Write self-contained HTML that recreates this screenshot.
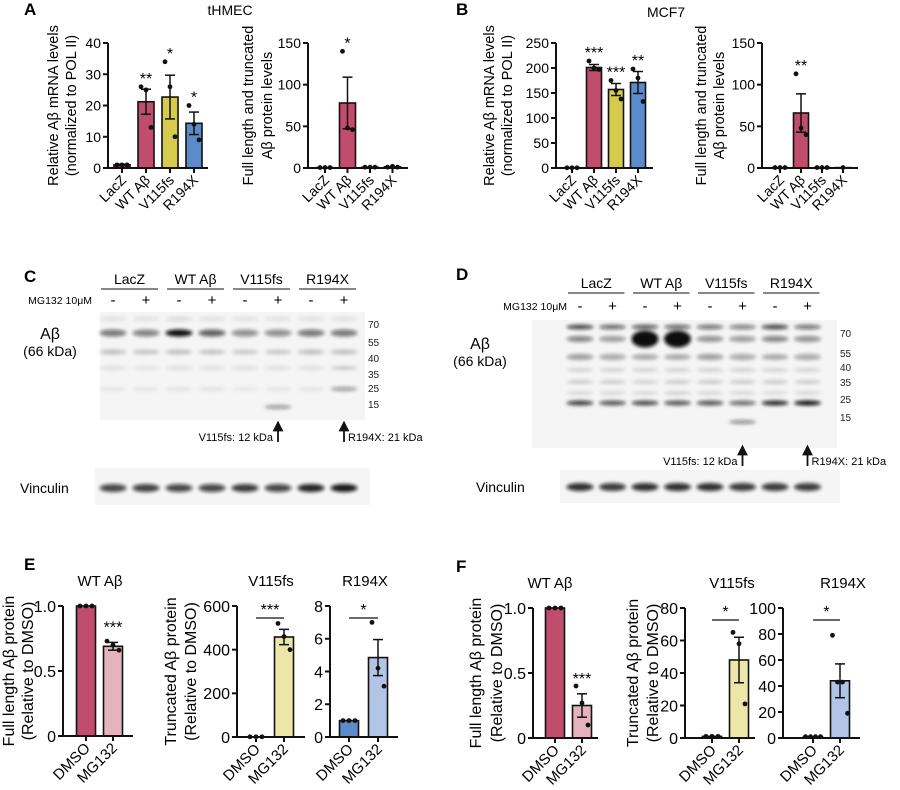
<!DOCTYPE html>
<html><head><meta charset="utf-8"><style>
html,body{margin:0;padding:0;background:#fff;}
svg{display:block;font-family:"Liberation Sans",Arial,sans-serif;}
</style></head><body>
<svg id="fig" width="900" height="790" viewBox="0 0 900 790" xmlns="http://www.w3.org/2000/svg">
<defs>
<filter id="blur" x="-30%" y="-100%" width="160%" height="300%"><feGaussianBlur stdDeviation="1.8"/></filter>
<marker id="arr" markerWidth="6" markerHeight="6" refX="3" refY="3" orient="auto"><path d="M0,0 L6,3 L0,6 z" fill="#111"/></marker>
</defs>
<g font-weight="bold" font-size="17">
<text x="24" y="15">A</text>
<text x="456" y="15">B</text>
<text x="24" y="282">C</text>
<text x="456" y="280">D</text>
<text x="24" y="570">E</text>
<text x="456" y="572">F</text>
</g>
<text x="230" y="15" font-size="14" text-anchor="middle">tHMEC</text>
<text x="666" y="17" font-size="14" text-anchor="middle">MCF7</text>
<g id="charts"></g>
<g id="blots"></g>
</svg>
<script>
// ---------- chart data ----------
const catsA = ["LacZ","WT Aβ","V115fs","R194X"];
const catsE = ["DMSO","MG132"];

const aMrnaMeans = [1, 21.2, 22.7, 14.3];
const aMrnaSems = [0.2, 4.0, 7.0, 3.6];
const aMrnaPoints = [[1,1,1],[26,25,13],[34,26,10],[20,14,9]];
const aMrnaStars = ["","**","*","*"];
const aMrnaTicks = [0,10,20,30,40];

const aProtMeans = [0.5, 78, 1, 1.5];
const aProtSems = [0, 31, 0, 0];
const aProtPoints = [[0.5,0.5,0.5],[140,48,46],[1,1,1],[1,2,1]];
const aProtStars = ["","*","",""];
const aProtTicks = [0,50,100,150];

const bMrnaMeans = [0.5, 201, 157, 171];
const bMrnaSems = [0, 6, 12, 22];
const bMrnaPoints = [[0.5,0.5,0.5],[214,200,197],[175,155,138],[198,180,133]];
const bMrnaStars = ["","***","***","**"];
const bMrnaTicks = [0,50,100,150,200,250];

const bProtMeans = [0.5, 66, 0.5, 0.5];
const bProtSems = [0, 23, 0, 0];
const bProtPoints = [[0.5,0.5,0.5],[113,48,40],[0.5,0.5,0.5],[0.5]];
const bProtStars = ["","**","",""];
const bProtTicks = [0,50,100,150];

const e1Means = [1, 0.69]; const e1Sems = [0, 0.03];
const e1Points = [[1,1,1],[0.73,0.70,0.66]]; const e1Ticks = [0,0.5,1.0];
const e2Means = [1, 458]; const e2Sems = [0, 35];
const e2Points = [[1,1,1],[520,460,400]]; const e2Ticks = [0,200,400,600];
const e3Means = [1, 4.85]; const e3Sems = [0, 1.1];
const e3Points = [[1,1,1],[7,4.2,3.1]]; const e3Ticks = [0,2,4,6,8];
const f1Means = [1, 0.25]; const f1Sems = [0, 0.09];
const f1Points = [[1,1,1],[0.40,0.27,0.10]]; const f1Ticks = [0,0.5,1.0];
const f2Means = [1, 48]; const f2Sems = [0, 14];
const f2Points = [[1,1,1],[65,58,21]]; const f2Ticks = [0,20,40,60,80];
const f3Means = [1, 44]; const f3Sems = [0, 13];
const f3Points = [[1,1,1,1],[79,43,43,19]]; const f3Ticks = [0,20,40,60,80,100];

const NS = "http://www.w3.org/2000/svg";
const root = document.getElementById("charts");
function mk(tag, attrs, parent){
  const e = document.createElementNS(NS, tag);
  for (const k in attrs) e.setAttribute(k, attrs[k]);
  (parent||root).appendChild(e); return e;
}

function chart(c){
  const g = mk("g", {});
  
  
  const maxV = c.ticks[c.ticks.length-1];
  const y = v => c.y0 - (v/maxV)*(c.y0-c.yTop);
  const cx = i => c.first + i*c.step;
  c.means.forEach((m,i)=>{
    const r = mk("rect", {x:cx(i)-c.bw/2, y:y(m), width:c.bw, height:Math.max(0,c.y0-y(m)), fill:c.colors[i], stroke:"#111","stroke-width":1.6}, g);
    
    
  });
  c.means.forEach((m,i)=>{
    const s = c.sems[i]; if (!s) return;
    const eg = mk("g", {stroke:"#111","stroke-width":1.5}, g);
    
    
    mk("line",{x1:cx(i),x2:cx(i),y1:y(m-s),y2:y(m+s)},eg);
    mk("line",{x1:cx(i)-5,x2:cx(i)+5,y1:y(m+s),y2:y(m+s)},eg);
    mk("line",{x1:cx(i)-5,x2:cx(i)+5,y1:y(m-s),y2:y(m-s)},eg);
  });
  c.points.forEach((pts,i)=>{
    const n = pts.length;
    pts.forEach((v,j)=>{
      const off = n>1 ? (j-(n-1)/2)*(c.jit||6) : 0;
      const p = mk("circle",{cx:cx(i)+off, cy:y(v), r:2.4, fill:"#111"}, g);
      
      
    });
  });
  const ax = mk("path",{d:`M${c.axX},${c.yTop} L${c.axX},${c.y0} L${c.end},${c.y0}`, fill:"none", stroke:"#111","stroke-width":2}, g);
  
  
  c.ticks.forEach(t=>{
    mk("line",{x1:c.axX-5,x2:c.axX,y1:y(t),y2:y(t),stroke:"#111","stroke-width":2},g);
    const tl = mk("text",{x:c.axX-7,y:y(t)+c.fs*0.36,"font-size":c.fs,"text-anchor":"end"},g);
    tl.textContent = (c.dec && t===1) ? "1.0" : String(t);
    
    
  });
  c.cats.forEach((cat,i)=>{
    mk("line",{x1:cx(i),x2:cx(i),y1:c.y0,y2:c.y0+5,stroke:"#111","stroke-width":2},g);
    const t = mk("text",{x:cx(i)+5,y:c.y0+13,"font-size":c.cfs,"text-anchor":"end",transform:`rotate(-45 ${cx(i)+5} ${c.y0+13})`},g);
    t.textContent = cat;
    
    
  });
  const my = (c.y0+c.yTop)/2 + (c.titleDy||0);
  c.title.forEach((line,k)=>{
    const tx = c.titleX[k];
    const t = mk("text",{x:tx,y:my,"font-size":c.tfs,"text-anchor":"middle",transform:`rotate(-90 ${tx} ${my})`},g);
    t.textContent = line;
    
    
  });
  if (c.stars) c.stars.forEach((s,i)=>{
    if (!s) return;
    const top = Math.max(c.means[i]+c.sems[i], ...c.points[i]);
    const t = mk("text",{x:cx(i),y:y(top)-3,"font-size":16,"text-anchor":"middle"},g);
    t.textContent = s;
    
    
  });
  if (c.bracket){
    const by = c.yTop + 12;
    const bl = mk("line",{x1:cx(0),x2:cx(1),y1:by,y2:by,stroke:"#111","stroke-width":1.3},g);
    
    
    const t = mk("text",{x:(cx(0)+cx(1))/2,y:by-3,"font-size":16,"text-anchor":"middle"},g);
    t.textContent = c.bracket;
    
    
  }
  if (c.top){
    const t = mk("text",{x:c.topX,y:c.topY,"font-size":15,"text-anchor":"middle"},g);
    t.textContent = c.top;
    
    
  }
  if (c.topStars){
    const t = mk("text",{x:cx(1),y:y(c.means[1]+c.sems[1])-10,"font-size":16,"text-anchor":"middle"},g);
    t.textContent = c.topStars;
    
    
  }
}
const RED="#c04d6d", YEL="#d6cb4c", BLU="#5c8bcc", LRED="#e4b3bd", LYEL="#ede6a9", LBLU="#b3c5e6";
const col4=[RED,RED,YEL,BLU];

chart({name:"chart-a-mrna",axX:108,y0:168,yTop:43,end:208,first:122,step:24,bw:16,cats:catsA,means:aMrnaMeans,sems:aMrnaSems,points:aMrnaPoints,ticks:aMrnaTicks,colors:col4,stars:aMrnaStars,fs:14,cfs:14,tfs:14.5,title:["Relative Aβ mRNA levels","(normalized to POL II)"],titleX:[58,76],jit:5});
chart({name:"chart-a-protein",axX:308,y0:168,yTop:43,end:408,first:325,step:22.5,bw:16,cats:catsA,means:aProtMeans,sems:aProtSems,points:aProtPoints,ticks:aProtTicks,colors:col4,stars:aProtStars,fs:14,cfs:14,tfs:14.5,title:["Full length and truncated","Aβ protein levels"],titleX:[253,272],jit:5});
chart({name:"chart-b-mrna",axX:556,y0:168,yTop:43,end:653,first:572,step:22,bw:15,cats:catsA,means:bMrnaMeans,sems:bMrnaSems,points:bMrnaPoints,ticks:bMrnaTicks,colors:col4,stars:bMrnaStars,fs:14,cfs:14,tfs:14.5,title:["Relative Aβ mRNA levels","(normalized to POL II)"],titleX:[494,512],jit:5});
chart({name:"chart-b-protein",axX:762,y0:168,yTop:43,end:858,first:780,step:21,bw:15,cats:catsA,means:bProtMeans,sems:bProtSems,points:bProtPoints,ticks:bProtTicks,colors:col4,stars:bProtStars,fs:14,cfs:14,tfs:14.5,title:["Full length and truncated","Aβ protein levels"],titleX:[706,724],jit:5});

chart({name:"chart-e-wt",axX:63,y0:736,yTop:606,end:133,first:86,step:27,bw:19,cats:catsE,means:e1Means,sems:e1Sems,points:e1Points,ticks:e1Ticks,dec:true,colors:[RED,LRED],fs:16,cfs:15,tfs:16,title:["Full length Aβ protein","(Relative to DMSO)"],titleX:[14,33],top:"WT Aβ",topX:100,topY:586,topStars:"***"});
chart({name:"chart-e-v115fs",axX:237,y0:737,yTop:606,end:305,first:256,step:28,bw:19,cats:catsE,means:e2Means,sems:e2Sems,points:e2Points,ticks:e2Ticks,colors:[YEL,LYEL],fs:16,cfs:15,tfs:16,title:["Truncated Aβ protein","(Relative to DMSO)"],titleX:[176,196],top:"V115fs",topX:271,topY:586,bracket:"***"});
chart({name:"chart-e-r194x",axX:330,y0:737,yTop:606,end:398,first:349,step:29,bw:19,cats:catsE,means:e3Means,sems:e3Sems,points:e3Points,ticks:e3Ticks,colors:[BLU,LBLU],fs:16,cfs:15,tfs:16,title:[],titleX:[],top:"R194X",topX:365,topY:586,bracket:"*"});

chart({name:"chart-f-wt",axX:533,y0:738,yTop:608,end:598,first:555,step:27,bw:19,cats:catsE,means:f1Means,sems:f1Sems,points:f1Points,ticks:f1Ticks,dec:true,colors:[RED,LRED],fs:16,cfs:15,tfs:16,title:["Full length Aβ protein","(Relative to DMSO)"],titleX:[481,502],top:"WT Aβ",topX:550,topY:588,topStars:"***"});
chart({name:"chart-f-v115fs",axX:685,y0:738,yTop:608,end:755,first:712,step:27,bw:19,cats:catsE,means:f2Means,sems:f2Sems,points:f2Points,ticks:f2Ticks,colors:[YEL,LYEL],fs:16,cfs:15,tfs:16,title:["Truncated Aβ protein","(Relative to DMSO)"],titleX:[638,658],top:"V115fs",topX:732,topY:588,bracket:"*"});
chart({name:"chart-f-r194x",axX:783,y0:738,yTop:608,end:860,first:813,step:27,bw:19,cats:catsE,means:f3Means,sems:f3Sems,points:f3Points,ticks:f3Ticks,colors:[BLU,LBLU],fs:16,cfs:15,tfs:16,title:[],titleX:[],top:"R194X",topX:843,topY:588,bracket:"*",jit:5});

// ---------- western blots ----------
const blotGroups = ["LacZ","WT Aβ","V115fs","R194X"];
const cBands = [
  {y:319,h:4,v:[0.08,0.08,0.1,0.08,0.08,0.08,0.08,0.08]},
  {y:333,h:6,v:[0.55,0.5,1.0,0.65,0.45,0.45,0.55,0.55]},
  {y:352,h:4,v:[0.22,0.2,0.22,0.2,0.18,0.18,0.22,0.22]},
  {y:368,h:3,v:[0.1,0.08,0.1,0.1,0.1,0.1,0.1,0.18]},
  {y:389,h:3,v:[0.07,0.07,0.08,0.08,0.06,0.08,0.08,0.4]},
  {y:407,h:3,v:[0,0,0,0,0,0.4,0,0]}
];
const cVinc = [0.75,0.78,0.75,0.75,0.8,0.75,0.9,0.95];
const dBands = [
  {y:327,h:4,v:[0.75,0.6,0.65,0.6,0.55,0.5,0.75,0.55]},
  {y:339,h:5,v:[0.5,0.4,0,0,0.45,0.4,0.5,0.45]},
  {y:339,h:16,v:[0,0,1,1,0,0,0,0]},
  {y:357,h:5,v:[0.4,0.35,0.3,0.3,0.4,0.35,0.3,0.35]},
  {y:370,h:3,v:[0.15,0.15,0.15,0.15,0.15,0.15,0.15,0.15]},
  {y:382,h:3,v:[0.18,0.18,0.15,0.18,0.18,0.18,0.18,0.18]},
  {y:393,h:3,v:[0.12,0.12,0.12,0.15,0.12,0.12,0.1,0.12]},
  {y:403,h:4,v:[0.8,0.7,0.75,0.7,0.7,0.6,0.9,1]},
  {y:422,h:3,v:[0,0,0,0,0,0.45,0,0]}
];
const dVinc = [0.85,0.8,0.85,0.85,0.85,0.8,0.8,0.8];
const mwLabels = ["70","55","40","35","25","15"];

const broot = document.getElementById("blots");
function blot(b){
  const g = mk("g",{},broot);
  
  
  const bg = mk("rect",{x:b.box[0],y:b.box[1],width:b.box[2],height:b.box[3],fill:"#f5f5f5"},g);
  
  
  const vb = mk("rect",{x:b.vbox[0],y:b.vbox[1],width:b.vbox[2],height:b.vbox[3],fill:"#f5f5f5"},g);
  
  
  const lane = i => b.lane0 + i*b.lstep;
  b.bands.forEach(bd=>{
    bd.v.forEach((v,i)=>{
      if (!v) return;
      const e = mk("ellipse",{cx:lane(i),cy:bd.y,rx:b.bw/2,ry:bd.h/2+0.5,fill:"#111","fill-opacity":v,filter:"url(#blur)"},g);
      
      
    });
  });
  b.vinc.forEach((v,i)=>{
    const e = mk("ellipse",{cx:lane(i),cy:b.vy,rx:b.bw/2,ry:4,fill:"#111","fill-opacity":v,filter:"url(#blur)"},g);
    
    
  });
  blotGroups.forEach((name,k)=>{
    const x = (lane(2*k)+lane(2*k+1))/2;
    const t = mk("text",{x:x,y:b.hy,"font-size":14,"text-anchor":"middle"},g);
    t.textContent = name;
    
    
    mk("line",{x1:lane(2*k)-12,x2:lane(2*k+1)+12,y1:b.hy+5,y2:b.hy+5,stroke:"#111","stroke-width":1},g);
  });
  const mg = mk("text",{x:b.mgx,y:b.sy,"font-size":10.5,"text-anchor":"end"},g);
  mg.textContent = "MG132 10μM";
  
  
  for (let i=0;i<8;i++){
    const t = mk("text",{x:lane(i),y:b.sy+1,"font-size":15,"text-anchor":"middle"},g);
    t.textContent = i%2 ? "+" : "-";
    
    
  }
  const ab = mk("text",{x:b.labX,y:b.abY,"font-size":16,"text-anchor":"middle"},g);
  ab.textContent = "Aβ";
  
  
  const kd = mk("text",{x:b.labX,y:b.abY+17,"font-size":14,"text-anchor":"middle"},g);
  kd.textContent = "(66 kDa)";
  
  
  mwLabels.forEach((m,k)=>{
    const t = mk("text",{x:b.mwx,y:b.mwy[k]+3,"font-size":10,"fill":"#222"},g);
    t.textContent = m;
    
    
  });
  const vl = mk("text",{x:b.vlx,y:b.vy+5,"font-size":14},g);
  vl.textContent = "Vinculin";
  
  
  [[5,"V115fs: 12 kDa",true],[7,"R194X: 21 kDa",false]].forEach(([li,txt,left])=>{
    const x = lane(li);
    const a = mk("line",{x1:x,x2:x,y1:b.ay+18,y2:b.ay+2,stroke:"#111","stroke-width":1.8,"marker-end":"url(#arr)"},g);
    
    
    const t = mk("text",{x:left?x-5:x+4,y:b.ay+17,"font-size":11,"text-anchor":left?"end":"start"},g);
    t.textContent = txt;
    
    
  });
}
blot({name:"blot-c",box:[100,312,265,108],vbox:[95,468,275,37],lane0:113,lstep:33,bw:27,bands:cBands,vinc:cVinc,vy:488,hy:284,sy:304,mgx:92,labX:50,abY:339,mwx:368,mwy:[325,343,359,375,389,405],vlx:20,ay:424});
blot({name:"blot-d",box:[532,320,305,128],vbox:[560,470,280,33],lane0:580,lstep:32.5,bw:27,bands:dBands,vinc:dVinc,vy:487,hy:288,sy:310,mgx:567,labX:480,abY:349,mwx:840,mwy:[334,354,368,383,400,418],vlx:476,ay:448});
</script>
</body></html>
